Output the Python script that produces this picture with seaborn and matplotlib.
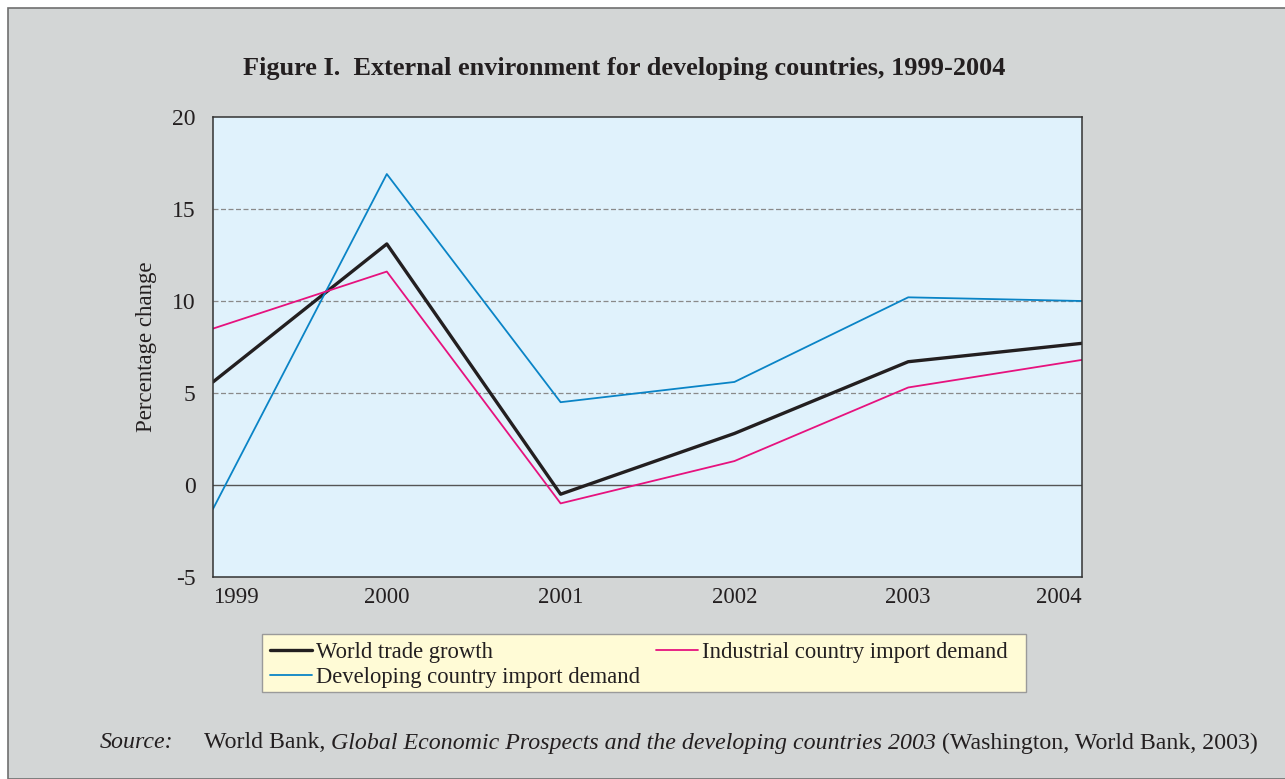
import pandas as pd
import numpy as np
import seaborn as sns
import matplotlib.pyplot as plt
from matplotlib.patches import Rectangle

# data
years = [1999, 2000, 2001, 2002, 2003, 2004]
world_trade = [5.6, 13.1, -0.5, 2.8, 6.7, 7.7]
industrial_import = [8.5, 11.6, -1.0, 1.3, 5.3, 6.8]
developing_import = [-1.3, 16.9, 4.5, 5.6, 10.2, 10.0]

names = ["World trade growth", "Developing country import demand", "Industrial country import demand"]
df = pd.DataFrame({
    "year": years * 3,
    "value": world_trade + developing_import + industrial_import,
    "series": [names[0]] * 6 + [names[1]] * 6 + [names[2]] * 6,
})

sns.set_style("white")
plt.rcParams["font.family"] = ["Liberation Serif", "DejaVu Serif"]

W, H = 1285, 779
fig = plt.figure(figsize=(12.85, 7.79), dpi=100)
fig.patch.set_facecolor("white")
# grey panel behind everything
fig.patches.append(Rectangle((8 / W, 0), 1, 1 - 8 / H, transform=fig.transFigure,
                             facecolor="#d3d6d6", edgecolor="#6f6f6f", linewidth=1.2, zorder=-10))

ax = fig.add_axes([213 / W, 1 - 577 / H, 869 / W, 460 / H])
ax.set_facecolor("#e0f2fc")

palette = {names[0]: "#231f20", names[1]: "#0a84c6", names[2]: "#e6127e"}
sizes = {names[0]: 2.4, names[1]: 1.3, names[2]: 1.3}
sns.lineplot(data=df, x="year", y="value", hue="series", size="series", sizes=sizes,
             palette=palette, ax=ax, legend=False)

# grid lines
for v in [5, 10, 15]:
    ax.axhline(v, color="#8a8a8a", linestyle=(0, (4, 2)), linewidth=0.9, zorder=0)
ax.axhline(0, color="#555555", linewidth=1.0, zorder=0)

ax.set_xlim(1999, 2004)
ax.set_ylim(-5, 20)
ax.set_yticks([-5, 0, 5, 10, 15, 20])
ax.set_yticklabels(["-5", "0", "5", "10", "15", "20"])
ax.set_xticks(years)
ax.set_xticklabels([str(y) for y in years])
labels = ax.get_xticklabels()
labels[0].set_horizontalalignment("left")
labels[-1].set_horizontalalignment("right")
ax.tick_params(axis="y", direction="out", length=10, width=1, color="#333333",
               labelsize=17, pad=2.5, labelcolor="#231f20")
ax.tick_params(axis="x", direction="out", length=6, width=1, color="#333333",
               labelsize=16.5, pad=1, labelcolor="#231f20")
for s in ax.spines.values():
    s.set_color("#333333")
    s.set_linewidth(1.1)

ax.set_xlabel("")
ax.set_ylabel("Percentage change", fontsize=16.5, color="#231f20", labelpad=11)

fig.text(624 / W, 1 - 69 / H, "Figure I.  External environment for developing countries, 1999-2004",
         ha="center", va="center", fontsize=18.9, fontweight="bold", color="#231f20")

# legend box drawn by hand, legend itself frameless inside it
fig.patches.append(Rectangle((262 / W, 1 - 692 / H), 764 / W, 58 / H, transform=fig.transFigure,
                             facecolor="#fffbd6", edgecolor="#9a9a9a", linewidth=1.0, zorder=1))
handles = [plt.Line2D([], [], color=palette[n], linewidth=sizes[n]) for n in names]
leg = fig.legend(handles, names, ncol=2, loc="upper left",
                 bbox_to_anchor=(270 / W, 1 - 642 / H),
                 frameon=False, fontsize=16.3,
                 handlelength=1.86, handletextpad=0.18, labelspacing=0.18,
                 borderpad=0, borderaxespad=0, columnspacing=0.7)
for t in leg.get_texts():
    t.set_color("#231f20")

# source line, pieces chained one after another
fig.canvas.draw()
renderer = fig.canvas.get_renderer()
y_src = 1 - 743 / H
fig.text(100 / W, y_src, "Source:", style="italic", fontsize=17.2, va="center", color="#231f20")
pieces = [("World Bank, ", "normal"),
          ("Global Economic Prospects and the developing countries 2003", "italic"),
          (" (Washington, World Bank, 2003)", "normal")]
x = 204 / W
for txt, st in pieces:
    t = fig.text(x, y_src, txt, style=st, fontsize=17.2, va="center", color="#231f20")
    bb = t.get_window_extent(renderer)
    x = bb.x1 / fig.bbox.width

fig.savefig("out.png", dpi=100, facecolor=fig.get_facecolor())
